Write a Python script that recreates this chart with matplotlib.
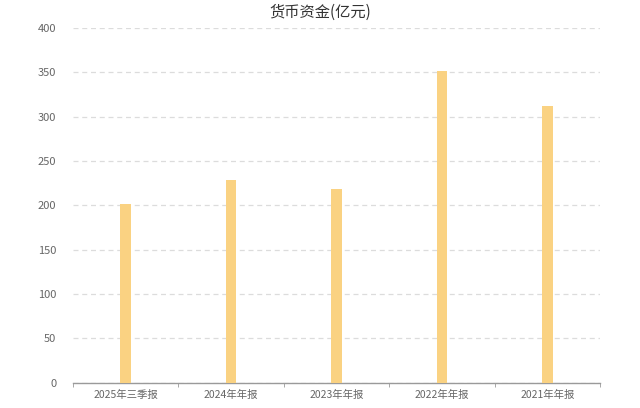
import numpy as np
import matplotlib.pyplot as plt

plt.rcParams['font.family'] = ['Noto Sans CJK SC', 'DejaVu Sans']

categories = ['2025年三季报', '2024年年报', '2023年年报', '2022年年报', '2021年年报']
values = [202, 229, 218, 352, 312]
yticks = [0, 50, 100, 150, 200, 250, 300, 350, 400]

fig = plt.figure(figsize=(6.4, 4.08), dpi=100)
ax = fig.add_axes([0.114, 0.062, 0.824, 0.869])

x = np.arange(len(categories))
ax.bar(x, values, width=0.1, color='#FAD282', zorder=3)

ax.set_xlim(-0.5, len(categories) - 0.5)
ax.set_ylim(0, 400)
ax.set_yticks(yticks)
ax.set_yticklabels([str(t) for t in yticks])
ax.yaxis.grid(True, linestyle=(0, (4, 3)), color='#DCDCDC', linewidth=0.9, zorder=0)

ax.set_xticks(x)
ax.set_xticklabels(categories)
ax.set_xticks(np.arange(len(categories) + 1) - 0.5, minor=True)
ax.tick_params(axis='x', which='major', length=0, pad=5, labelsize=7.5, labelcolor='#666666')
ax.tick_params(axis='x', which='minor', length=3, color='#9A9A9A')
ax.tick_params(axis='y', length=0, pad=12, labelsize=8, labelcolor='#666666')

for s in ['top', 'right', 'left']:
    ax.spines[s].set_visible(False)
ax.spines['bottom'].set_color('#9A9A9A')
ax.spines['bottom'].set_linewidth(1)

fig.text(0.5, 0.97, '货币资金(亿元)', ha='center', va='center', fontsize=11, color='#333333')

fig.savefig('out.png', dpi=100)
